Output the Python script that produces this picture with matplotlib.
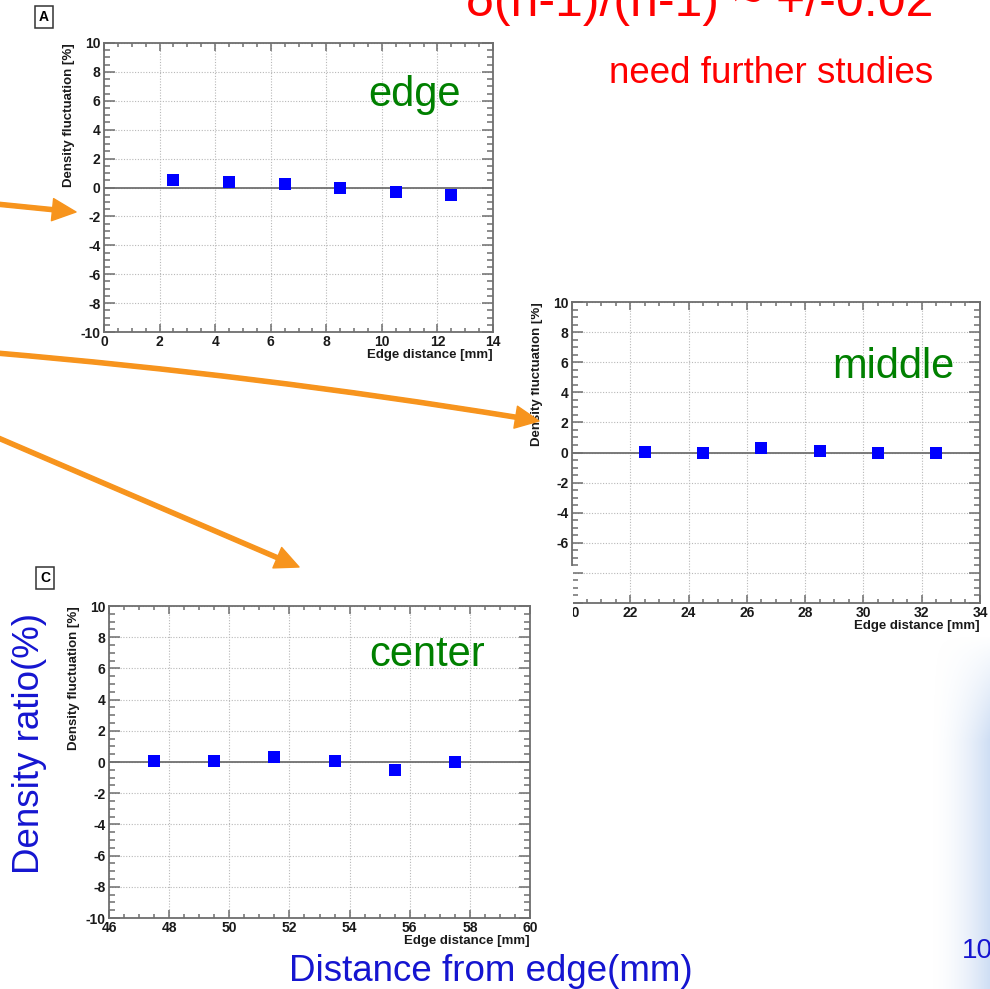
import numpy as np
import matplotlib.pyplot as plt
from matplotlib.ticker import MultipleLocator
from matplotlib.patches import Rectangle, FancyArrowPatch

# density fluctuation [%] vs edge distance [mm], three regions of the foil
edge_x = [2.5, 4.5, 6.5, 8.5, 10.5, 12.5]
edge_y = [0.5, 0.4, 0.25, -0.05, -0.3, -0.55]
middle_x = [22.5, 24.5, 26.5, 28.5, 30.5, 32.5]
middle_y = [0.05, -0.05, 0.3, 0.1, -0.05, -0.02]
center_x = [47.5, 49.5, 51.5, 53.5, 55.5, 57.5]
center_y = [0.05, 0.05, 0.3, 0.05, -0.5, 0.0]

W, H = 990, 989
plt.rcParams['font.family'] = ['Liberation Sans', 'DejaVu Sans']
plt.rcParams['axes.unicode_minus'] = False

fig = plt.figure(figsize=(W / 100, H / 100), dpi=100)


def fx(x):
    return x / W


def fy(y):
    return 1 - y / H


FRAME = '#6e6e6e'


def root_panel(box, xlim, xs, ys, word, word_pos):
    l, t, r, b = box
    ax = fig.add_axes([fx(l), fy(b), fx(r) - fx(l), fy(t) - fy(b)])
    ax.set_xlim(*xlim)
    ax.set_ylim(-10, 10)
    ax.xaxis.set_major_locator(MultipleLocator(2))
    ax.xaxis.set_minor_locator(MultipleLocator(0.5))
    ax.yaxis.set_major_locator(MultipleLocator(2))
    ax.yaxis.set_minor_locator(MultipleLocator(0.5))
    for s in ax.spines.values():
        s.set_color(FRAME)
        s.set_linewidth(1.3)
    ax.tick_params(which='both', direction='in', top=True, right=True,
                   color=FRAME, width=1.1, labelsize=10, pad=2.5)
    ax.tick_params(axis='y', which='major', length=8)
    ax.tick_params(axis='y', which='minor', length=4)
    ax.tick_params(axis='x', which='major', length=5.5)
    ax.tick_params(axis='x', which='minor', length=3)
    for lab in ax.get_xticklabels() + ax.get_yticklabels():
        lab.set_fontweight('bold')
        lab.set_color('#1a1a1a')
    ax.grid(which='major', color='#b8b8b8', linestyle=(0, (1, 1.5)), linewidth=0.8)
    ax.axhline(0, color='#707070', linewidth=1.3, zorder=2)
    ax.plot(xs, ys, 's', color='#0000ff', markersize=8, markeredgewidth=0, zorder=3)
    fig.text(fx(r), fy(b + 23), 'Edge distance [mm]', ha='right', va='center',
             fontsize=9.5, fontweight='bold', color='#1a1a1a')
    fig.text(fx(l - 35), fy(t), 'Density fluctuation [%]', rotation=90,
             ha='center', va='top', fontsize=9.5, fontweight='bold', color='#1a1a1a')
    fig.text(fx(word_pos[0]), fy(word_pos[1]), word, ha='center', va='baseline',
             fontsize=30, color='#008000')
    return ax


root_panel((104, 43, 493, 332), (0, 14), edge_x, edge_y, 'edge', (415, 106))
root_panel((572, 302, 980, 603), (20, 34), middle_x, middle_y, 'middle', (893, 378))
root_panel((109, 606, 530, 918), (46, 60), center_x, center_y, 'center', (427, 666))

# panel tags
for tag, (tx, ty) in [('A', (44, 17)), ('C', (45, 578))]:
    fig.text(fx(tx), fy(ty), tag, ha='center', va='center', fontsize=10,
             fontweight='bold',
             bbox=dict(boxstyle='square,pad=0.3', facecolor='white',
                       edgecolor='#333333', linewidth=1.1))

# pasted-over corners of the middle panel
for x0, y0, x1, y1 in [(538, 566, 572.5, 626), (514, 290, 531, 394)]:
    fig.add_artist(Rectangle((fx(x0), fy(y1)), fx(x1) - fx(x0), fy(y0) - fy(y1),
                             transform=fig.transFigure, facecolor='white',
                             edgecolor='none', zorder=5))

# slide background shading at lower right
bg = fig.add_axes([fx(930), 0, fx(990) - fx(930), fy(635)], zorder=-1)
bg.axis('off')
nx, ny = 80, 200
gx = np.linspace(0, 1, nx)[None, :] ** 1.8
gy = np.clip(np.linspace(0, 1, ny)[:, None] / 0.3, 0, 1)
rgba = np.zeros((ny, nx, 4))
rgba[..., 0] = 0.78
rgba[..., 1] = 0.85
rgba[..., 2] = 0.95
rgba[..., 3] = 0.85 * gx * gy
bg.imshow(rgba, aspect='auto', extent=(0, 1, 0, 1), origin='upper')

# slide texts
fig.text(fx(700), fy(16), 'δ(n-1)/(n-1) ~ +/-0.02', ha='center', va='baseline',
         fontsize=36, color='#ff0000')
fig.text(fx(771), fy(83), 'need further studies', ha='center', va='baseline',
         fontsize=26.5, color='#ff0000')
fig.text(fx(30), fy(743), 'Density ratio(%)', rotation=90, ha='center', va='center',
         fontsize=26.5, color='#1515d0')
fig.text(fx(491), fy(981), 'Distance from edge(mm)', ha='center', va='baseline',
         fontsize=26.5, color='#1515d0')
fig.text(fx(962), fy(958), '10', ha='left', va='baseline', fontsize=20,
         color='#1515d0')

# orange pointers
ORANGE = '#f7941d'
style = 'Simple,tail_width=0.15,head_width=0.8,head_length=0.85'
for (x0, y0), (x1, y1), rad in [((-4, 204), (76, 212), 0.0),
                                ((-4, 353), (539, 421), -0.02),
                                ((-4, 437), (299, 567), 0.0)]:
    arr = FancyArrowPatch((fx(x0), fy(y0)), (fx(x1), fy(y1)),
                          transform=fig.transFigure,
                          connectionstyle=f'arc3,rad={rad}',
                          arrowstyle=style, mutation_scale=20,
                          color=ORANGE, shrinkA=0, shrinkB=0, zorder=10)
    fig.add_artist(arr)

fig.savefig('out.png', dpi=100)
